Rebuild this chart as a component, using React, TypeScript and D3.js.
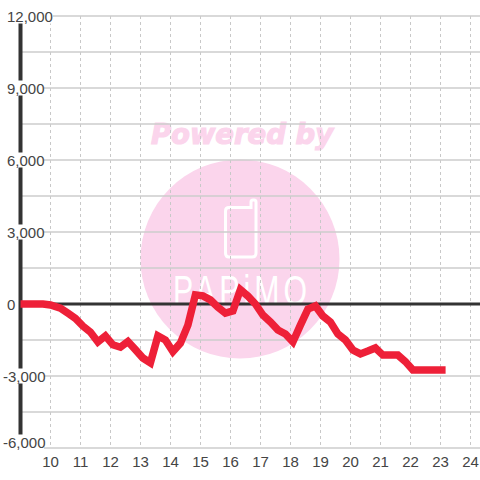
import React from "react";
import * as d3 from "d3";

const hours = [9, 9.75, 10, 10.33, 10.58, 10.83, 11.08, 11.33, 11.58, 11.83, 12.08, 12.33, 12.58, 12.83, 13.08, 13.33, 13.58, 13.83, 14.08, 14.33, 14.58, 14.83, 15.08, 15.33, 15.58, 15.83, 16.08, 16.33, 16.58, 16.83, 17.08, 17.33, 17.58, 17.83, 18.08, 18.33, 18.58, 18.83, 19.08, 19.33, 19.58, 19.83, 20.08, 20.33, 20.58, 20.83, 21.08, 21.33, 21.58, 21.83, 22.08, 22.33, 23.17];
const values = [0, 0, -40, -170, -380, -600, -920, -1170, -1580, -1330, -1700, -1800, -1560, -1900, -2250, -2450, -1330, -1500, -1980, -1630, -880, 380, 340, 170, -130, -380, -290, 600, 330, 0, -460, -750, -1080, -1250, -1580, -880, -210, -80, -500, -750, -1250, -1500, -1920, -2080, -1960, -1830, -2130, -2130, -2130, -2400, -2750, -2750, -2750];
const xTicks = [10, 11, 12, 13, 14, 15, 16, 17, 18, 19, 20, 21, 22, 23, 24];
const yLabelValues = [12000, 9000, 6000, 3000, 0, -3000, -6000];
const yGridValues = [12000, 10500, 9000, 7500, 6000, 4500, 3000, 1500, 0, -1500, -3000, -4500, -6000];

const x = d3.scaleLinear().domain([9, 24]).range([20.5, 470.5]);
const y = d3.scaleLinear().domain([-6000, 12000]).range([448, 16]);
const line = d3.line<number>().x((_, i) => x(hours[i])).y((d) => y(d)).curve(d3.curveLinear);
const fmt = d3.format(",");
const font = "'Liberation Sans', Arial, sans-serif";

export default function App() {
  return (
    <svg width={480} height={480} style={{ position: "absolute", left: 0, top: 0, background: "#fff" }} fontFamily={font}>
      <circle cx={240} cy={259} r={99.5} fill="#fbd5ec" />
      <text x={242} y={144} textAnchor="middle" fontFamily="'DejaVu Sans'" fontWeight="bold" fontStyle="italic" fontSize={27.5} fill="#fbd5ec" stroke="#fbd5ec" strokeWidth={1.2}>Powered by</text>
      <path d="M229 207.5 H251 V202 Q251 200 253 200 H254 Q256 200 256 202 V253 Q256 257 252 257 H229 Q225.5 257 225.5 253 V211 Q225.5 207.5 229 207.5 Z" fill="none" stroke="#fff" strokeWidth={3} />
      <text transform="translate(173,305) scale(0.72,1)" fontSize={42} fill="#fff" textLength={186} lengthAdjust="spacing">PAPiMO</text>
      {xTicks.map((t) => (
        <line key={t} x1={x(t)} x2={x(t)} y1={16} y2={446} stroke="#c8c8c8" strokeWidth={1} strokeDasharray="3,3" />
      ))}
      {yGridValues.map((v) => (
        <line key={v} x1={20} x2={480} y1={y(v)} y2={y(v)} stroke="#cdcdcd" strokeWidth={1.5} />
      ))}
      <line x1={20.5} x2={20.5} y1={16} y2={448} stroke="#333" strokeWidth={4} />
      <line x1={20} x2={480} y1={y(0)} y2={y(0)} stroke="#333" strokeWidth={3} />
      {yLabelValues.map((v) => {
        const cy = v === -6000 ? y(v) - 6 : y(v);
        const neg = v < 0;
        const w = v === 0 ? 0 : v === 12000 ? 47 : 38;
        return (
          <g key={v}>
            {v !== 0 && <rect x={neg ? 2 : 6} y={cy - 7.5} width={w + (neg ? 4 : 0)} height={v === -6000 ? 16 : 15} fill="#fff" />}
            <text x={neg ? 3 : 7} y={cy + 5.5} fontSize={15} fill="#444">{fmt(v).replace("−", "-")}</text>
          </g>
        );
      })}
      {xTicks.map((t) => (
        <text key={t} x={x(t)} y={467} textAnchor="middle" fontSize={15} fill="#444">{t}</text>
      ))}
      <path d={line(values) ?? ""} fill="none" stroke="#ee2038" strokeWidth={7.5} strokeLinejoin="miter" strokeMiterlimit={3} />
    </svg>
  );
}
